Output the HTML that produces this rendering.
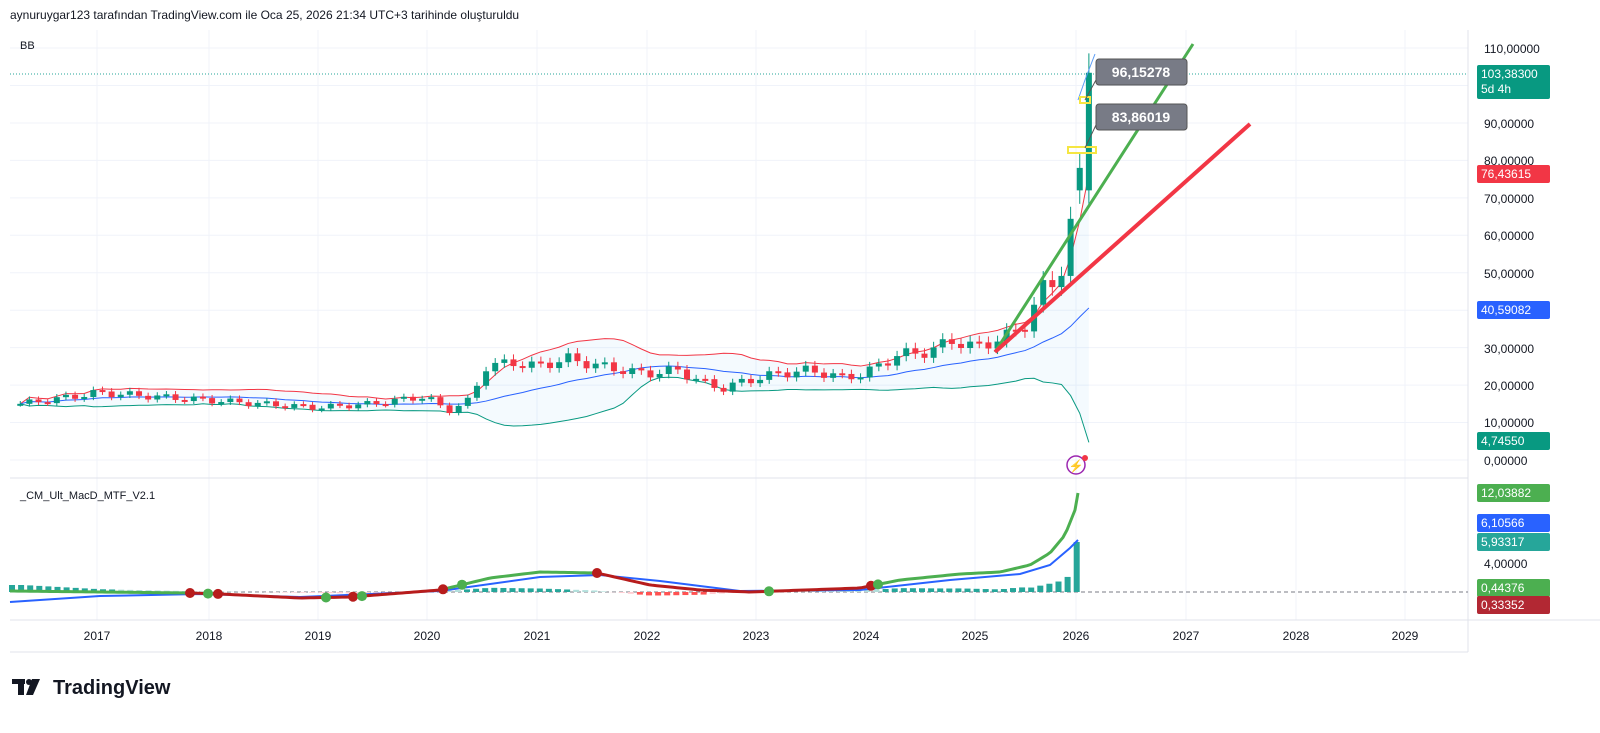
<!DOCTYPE html>
<html><head><meta charset="utf-8"><style>
html,body{margin:0;padding:0;background:#fff;}
body{width:1600px;height:733px;position:relative;overflow:hidden;font-family:"Liberation Sans","Noto Sans CJK JP",sans-serif;color:#131722;}
.t{position:absolute;font-size:12px;}
.lab{position:absolute;left:1477px;width:73px;height:18px;line-height:18px;font-size:12px;color:#fff;padding-left:4px;border-radius:2px;box-sizing:border-box;}
.ax{position:absolute;left:1484px;font-size:12px;color:#131722;}
.yr{position:absolute;top:629px;font-size:12px;color:#131722;width:40px;text-align:center;}
</style></head><body>
<div class="t" style="left:10px;top:8px;font-size:12px;">aynuruygar123 tarafından TradingView.com ile Oca 25, 2026 21:34 UTC+3 tarihinde oluşturuldu</div>
<svg id="s" width="1600" height="733" style="position:absolute;left:0;top:0">
<g stroke="#f0f3fa" stroke-width="1" id="grid"></g>
<line x1="1468" y1="30" x2="1468" y2="652" stroke="#e0e3eb"/>
<line x1="10" y1="478" x2="1468" y2="478" stroke="#e0e3eb"/>
<line x1="10" y1="620" x2="1600" y2="620" stroke="#e0e3eb"/>
<line x1="10" y1="652" x2="1468" y2="652" stroke="#e0e3eb"/>
<line x1="10" y1="74" x2="1468" y2="74" stroke="#26a69a" stroke-dasharray="1,2"/>
<line x1="10" y1="592" x2="1468" y2="592" stroke="#787b86" stroke-dasharray="4,3"/>
<g id="bb"></g><g id="cd"></g><g id="mh"></g>
<line x1="995" y1="352" x2="1193" y2="44" stroke="#4caf50" stroke-width="3"/>
<line x1="995" y1="352" x2="1250" y2="124" stroke="#f23645" stroke-width="4"/>
<polyline points="1078,100 1085,80 1095,54" fill="none" stroke="#5b9cf6" stroke-width="1"/>
<rect x="1068" y="147" width="28" height="6" fill="none" stroke="#f5e642" stroke-width="2"/>
<rect x="1080" y="97" width="10" height="6" fill="none" stroke="#f5e642" stroke-width="2"/>
<rect x="1096" y="59" width="91" height="26" rx="3" fill="#787b86" stroke="#555" />
<rect x="1096" y="104" width="91" height="26" rx="3" fill="#787b86" stroke="#555"/>
<line x1="1096" y1="80" x2="1085" y2="100" stroke="#555"/><line x1="1096" y1="125" x2="1085" y2="148" stroke="#555"/>
<text x="1141" y="77" fill="#fff" font-size="14" font-weight="bold" text-anchor="middle" font-family="Liberation Sans">96,15278</text>
<text x="1141" y="122" fill="#fff" font-size="14" font-weight="bold" text-anchor="middle" font-family="Liberation Sans">83,86019</text>
<circle cx="1076" cy="465" r="9" fill="none" stroke="#9c27b0" stroke-width="1.5"/>
<text x="1076" y="470" fill="#9c27b0" font-size="12" text-anchor="middle">⚡</text>
<circle cx="1085" cy="458" r="3" fill="#f23645"/>
<g id="macd"></g>
<rect x="12" y="679" width="13" height="5" fill="#131722"/><rect x="18" y="679" width="6" height="16" fill="#131722"/>
<circle cx="29" cy="682" r="3" fill="#131722"/><polygon points="32,679 40,679 33,695 26,695" fill="#131722"/>
<text x="53" y="694" font-size="20" font-weight="bold" fill="#131722" font-family="Liberation Sans">TradingView</text>
</svg>
<div class="t" style="left:20px;top:40px;font-size:11px;">BB</div>
<div class="t" style="left:20px;top:490px;font-size:11px;">_CM_Ult_MacD_MTF_V2.1</div>
<div class="ax" style="top:42px">110,00000</div>
<div class="ax" style="top:117px">90,00000</div>
<div class="ax" style="top:154px">80,00000</div>
<div class="ax" style="top:192px">70,00000</div>
<div class="ax" style="top:229px">60,00000</div>
<div class="ax" style="top:267px">50,00000</div>
<div class="ax" style="top:342px">30,00000</div>
<div class="ax" style="top:379px">20,00000</div>
<div class="ax" style="top:416px">10,00000</div>
<div class="ax" style="top:454px">0,00000</div>
<div class="ax" style="top:557px">4,00000</div>
<div class="lab" style="top:65px;height:34px;background:#089981;line-height:15px;padding-top:2px">103,38300<br>5d 4h</div>
<div class="lab" style="top:165px;background:#f23645">76,43615</div>
<div class="lab" style="top:301px;background:#2962ff">40,59082</div>
<div class="lab" style="top:432px;background:#089981">4,74550</div>
<div class="lab" style="top:484px;background:#4caf50">12,03882</div>
<div class="lab" style="top:514px;background:#2962ff">6,10566</div>
<div class="lab" style="top:533px;background:#26a69a">5,93317</div>
<div class="lab" style="top:579px;background:#4caf50">0,44376</div>
<div class="lab" style="top:596px;background:#b22833">0,33352</div>
<div class="yr" style="left:77px">2017</div><div class="yr" style="left:189px">2018</div><div class="yr" style="left:298px">2019</div><div class="yr" style="left:407px">2020</div><div class="yr" style="left:517px">2021</div><div class="yr" style="left:627px">2022</div><div class="yr" style="left:736px">2023</div><div class="yr" style="left:846px">2024</div><div class="yr" style="left:955px">2025</div><div class="yr" style="left:1056px">2026</div><div class="yr" style="left:1166px">2027</div><div class="yr" style="left:1276px">2028</div><div class="yr" style="left:1385px">2029</div>
<script>
var NS="http://www.w3.org/2000/svg";
function el(p,n,a){var e=document.createElementNS(NS,n);for(var k in a)e.setAttribute(k,a[k]);document.getElementById(p).appendChild(e);return e;}
var yrs=[97,209,318,427,537,647,756,866,975,1076,1186,1296,1405];
yrs.forEach(function(x){el('grid','line',{x1:x,y1:30,x2:x,y2:620});});
for(var p=0;p<=110;p+=10){var y=460-3.745*p;el('grid','line',{x1:10,y1:y,x2:1468,y2:y});}
function X(t){return 97+(t-2017)*109.6;}
function Y(p){return 460-3.745*p;}
var K=[[2016.3,15],[2016.8,17],[2017,18],[2017.5,17],[2018,16],[2018.5,15],[2019,14],[2019.5,15],[2020,17],[2020.2,13],[2020.4,16],[2020.55,25],[2020.8,26],[2021,25],[2021.3,27],[2021.6,25],[2022,23],[2022.3,24],[2022.5,21],[2022.7,19],[2022.9,21],[2023.2,23],[2023.5,24],[2023.8,22],[2024,23],[2024.3,28],[2024.6,29],[2024.8,32],[2025,30],[2025.3,33],[2025.5,37],[2025.6,45],[2025.75,48],[2025.85,55],[2025.92,70],[2026,78],[2026.05,103]];
function interp(t){for(var i=0;i<K.length-1;i++){if(t<=K[i+1][0]){var f=(t-K[i][0])/(K[i+1][0]-K[i][0]);return K[i][1]+f*(K[i+1][1]-K[i][1]);}}return K[K.length-1][1];}
var C=[],t=2016.3,prev=15,i=0;
while(t<=2026.06){var c=interp(t)+Math.sin(i*1.7)*1.1*(interp(t)/20);if(t>2025.9)c=interp(t);C.push({t:t,o:prev,c:c});prev=c;t+=1/12;i++;}
C[C.length-1].o=72;C[C.length-1].c=103.4;C[C.length-2].o=72;C[C.length-2].c=78;
var up=[],mid=[],lo=[];
for(var j=0;j<C.length;j++){var s=C.slice(Math.max(0,j-19),j+1).map(function(d){return d.c});var m=s.reduce(function(a,b){return a+b})/s.length;var v=Math.sqrt(s.reduce(function(a,b){return a+(b-m)*(b-m)},0)/s.length);mid.push([X(C[j].t),Y(m)]);up.push([X(C[j].t),Y(m+2*v)]);lo.push([X(C[j].t),Y(Math.max(m-2*v,4.7))]);}
lo[lo.length-1][1]=Y(4.7);up[up.length-1][1]=Y(76.4);mid[mid.length-1][1]=Y(40.6);
var poly=up.concat(lo.slice().reverse()).map(function(q){return q.join(',')}).join(' ');
el('bb','polygon',{points:poly,fill:'#2196f3','fill-opacity':0.05});
el('bb','polyline',{points:up.map(function(q){return q.join(',')}).join(' '),fill:'none',stroke:'#f23645','stroke-width':1});
el('bb','polyline',{points:mid.map(function(q){return q.join(',')}).join(' '),fill:'none',stroke:'#2962ff','stroke-width':1});
el('bb','polyline',{points:lo.map(function(q){return q.join(',')}).join(' '),fill:'none',stroke:'#089981','stroke-width':1});
C.forEach(function(d){var x=X(d.t),col=d.c>=d.o?'#089981':'#f23645';var hi=Math.max(d.o,d.c)*1.05,lw=Math.min(d.o,d.c)*0.95;el('cd','line',{x1:x,y1:Y(hi),x2:x,y2:Y(lw),stroke:col});var yt=Y(Math.max(d.o,d.c)),yb=Y(Math.min(d.o,d.c));el('cd','rect',{x:x-3,y:yt,width:6,height:Math.max(2,yb-yt),fill:col});});
var M=[[10,591],[100,592],[190,593],[220,594],[300,598],[350,597],[440,590],[490,578],[540,572],[597,573],[650,585],[700,590],[750,592],[860,588],[900,580],[960,574],[1000,572],[1030,565],[1050,553],[1065,535],[1075,510],[1078,493]];
var S=[[10,602],[100,596],[200,594],[300,597],[440,591],[540,577],[600,575],[660,581],[740,591],[860,590],[950,580],[1020,574],[1050,565],[1070,548],[1078,540]];
function f(A,x){for(var i=0;i<A.length-1;i++)if(x<=A[i+1][0]){var r=(x-A[i][0])/(A[i+1][0]-A[i][0]);return A[i][1]+r*(A[i+1][1]-A[i][1]);}return A[A.length-1][1];}
for(var x=12;x<=1078;x+=9.1){var h=(f(S,x)-f(M,x))*0.7;if(x<1030)h=Math.max(-9,Math.min(7,h));var col=h>0?(h>2.5?'#26a69a':'#b2dfdb'):(h<-2.5?'#ff5252':'#ffcdd2');if(x>1040)col='#26a69a';if(x>1074){h=50;}el('mh','rect',{x:x-3,y:h>0?592-h:592,width:6,height:Math.abs(h),fill:col});}
el('macd','polyline',{points:S.map(function(q){return q.join(',')}).join(' '),fill:'none',stroke:'#2962ff','stroke-width':2});
var segs=[[10,190,'#4caf50'],[190,440,'#b71c1c'],[440,597,'#4caf50'],[597,871,'#b71c1c'],[871,1078,'#4caf50']];
segs.forEach(function(g){var pts=[];for(var x=g[0];x<=g[1];x+=4)pts.push(x+','+f(M,x));pts.push(g[1]+','+f(M,g[1]));el('macd','polyline',{points:pts.join(' '),fill:'none',stroke:g[2],'stroke-width':3});});
[190,218,353,443,597,871].forEach(function(x){el('macd','circle',{cx:x,cy:f(M,x),r:5,fill:'#b71c1c'});});
[208,326,362,462,769,878].forEach(function(x){el('macd','circle',{cx:x,cy:f(M,x),r:5,fill:'#4caf50'});});
</script>
</body></html>
